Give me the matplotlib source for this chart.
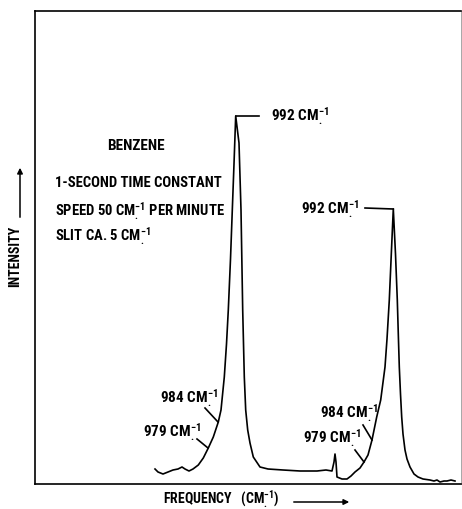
import matplotlib

matplotlib.use("Agg")
import matplotlib.pyplot as plt
from matplotlib import font_manager

installed = {f.name for f in font_manager.fontManager.ttflist}
narrow = [n for n in ("Roboto Condensed", "DejaVu Sans Condensed",
                      "Liberation Sans Narrow", "Open Sans Condensed",
                      "Noto Sans Condensed") if n in installed]
FONT = narrow[0] if narrow else "Roboto"

plt.rcParams["font.family"] = [FONT, "DejaVu Sans"]
plt.rcParams["font.weight"] = "bold"
plt.rcParams["mathtext.fontset"] = "custom"
plt.rcParams["mathtext.rm"] = FONT + ":bold"
plt.rcParams["mathtext.default"] = "rm"

# Recorder trace, chart units (frequency position, pen height above baseline)
freq = [120, 123, 128, 133, 138, 143, 147, 150, 154, 158, 163.3, 168.3,
        173.3, 178.3, 183.3, 186, 189.3, 191.5, 193.3, 195.5, 197.3, 199,
        200.7, 204, 206, 207.7, 209.3, 210.7, 212.7, 215, 218.3, 225,
        233, 248, 265, 282, 291, 297, 299, 300, 301, 302, 307, 312, 316, 320,
        325, 329, 333, 337, 341.7, 345.7, 350, 352, 354.3, 356.3, 358.3,
        360.5, 362.3, 363.3, 364.3, 365.5, 366.7, 368, 370, 372, 375, 379,
        383, 388, 395, 399, 402, 405, 409, 412, 416, 420]
intensity = [15, 12, 10, 12, 14, 15, 17, 15, 13, 15, 19, 26, 36, 47, 62,
             74, 107, 140, 174, 225, 274, 320, 368, 341, 274, 174, 107,
             74, 54, 41, 27, 17, 15, 14, 13, 13, 14, 13, 22, 30, 22, 7, 5, 5,
             8, 12, 16, 22, 29, 44, 67, 84, 117, 145, 184, 230, 275, 230,
             184, 150, 117, 90, 67, 50, 34, 25, 17, 10, 7, 5, 4, 3, 4, 2, 3,
             3, 4, 3]

# Shoulder markers: (label, text position, start of leader, point on trace)
shoulders = [
    ("984", (125, 86), (170, 76), (183, 62)),
    ("979", (108, 52), (162, 45), (173, 36)),
    ("984", (285, 71), (328, 59), (337, 44)),
    ("979", (268, 46), (320, 34), (329, 22)),
]

CM = r"CM$_{.}^{-1}$"

fig = plt.figure(figsize=(4.62, 5.09), dpi=100)
ax = fig.add_axes([35 / 462, 25 / 509, 426 / 462, 473.5 / 509])
ax.set_xlim(0, 426)
ax.set_ylim(0, 473.5)
ax.set_xticks([])
ax.set_yticks([])
for side in ax.spines.values():
    side.set_linewidth(1.2)
ax.spines["right"].set_linewidth(0.6)
ax.spines["right"].set_color("#999999")

ax.plot(freq, intensity, color="black", lw=1.2, solid_joinstyle="round")

# main peak labels
ax.plot([200.7, 224], [368, 368], color="black", lw=1.2)
ax.text(236, 368, "992 " + CM, fontsize=11, va="center", ha="left")
ax.plot([330, 358.3], [276, 275], color="black", lw=1.2)
ax.text(324, 275, "992 " + CM, fontsize=11, va="center", ha="right")

for num, (tx, ty), start, end in shoulders:
    ax.plot([start[0], end[0]], [start[1], end[1]], color="black", lw=1.2)
    ax.text(tx, ty, num + " " + CM, fontsize=11, va="center", ha="left")

ax.text(101, 338, "BENZENE", fontsize=11, ha="center", va="center")
ax.text(20, 301, "1-SECOND TIME CONSTANT", fontsize=10.5, va="center")
ax.text(20, 273, "SPEED 50 " + CM + " PER MINUTE", fontsize=10.5,
        va="center")
ax.text(20, 248, "SLIT CA. 5 " + CM, fontsize=10.5, va="center")

# axis captions with arrows
fig.text(15 / 462, 1 - 256 / 509, "INTENSITY", rotation=90, fontsize=10,
         ha="center", va="center")
ax.annotate("", xy=(20 / 462, 1 - 165 / 509), xytext=(20 / 462, 1 - 220 / 509),
            xycoords="figure fraction",
            arrowprops=dict(arrowstyle="-|>", color="black", lw=1.1,
                            mutation_scale=8))
fig.text(221 / 462, 1 - 499 / 509, "FREQUENCY   (" + CM + ")", fontsize=10,
         ha="center", va="center")
ax.annotate("", xy=(352 / 462, 1 - 502 / 509), xytext=(291 / 462, 1 - 502 / 509),
            xycoords="figure fraction",
            arrowprops=dict(arrowstyle="-|>", color="black", lw=1.1,
                            mutation_scale=8))

fig.savefig("out.png", dpi=100)
